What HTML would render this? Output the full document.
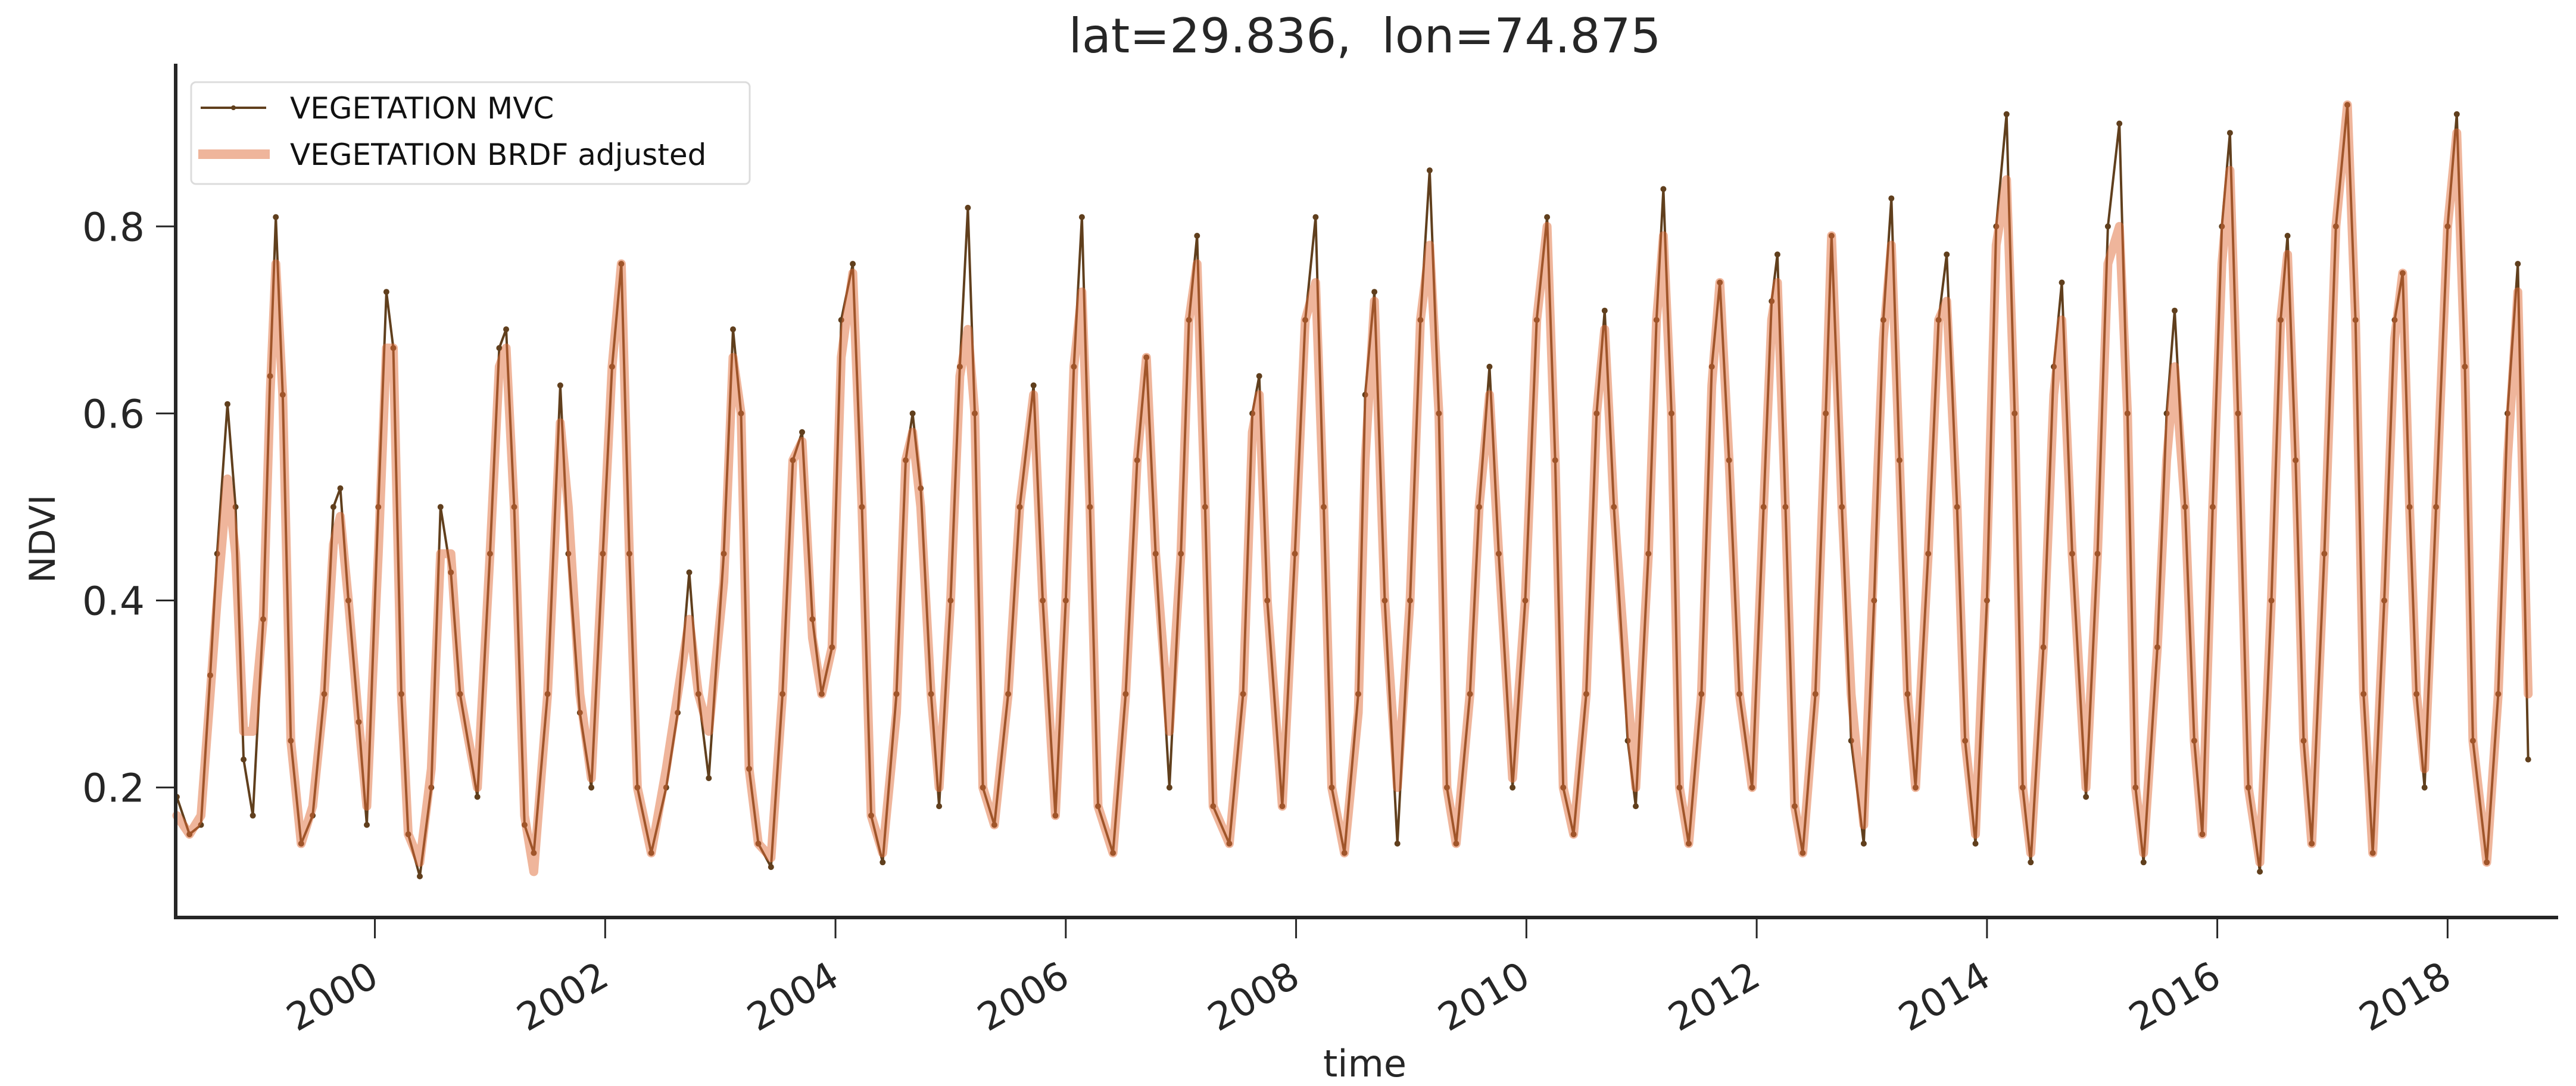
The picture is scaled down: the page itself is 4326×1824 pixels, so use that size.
<!DOCTYPE html>
<html><head><meta charset="utf-8"><style>
html,body{margin:0;padding:0;background:#fff;}
svg{display:block;}
text{font-family:"DejaVu Sans","Liberation Sans",sans-serif;fill:#262626;}
</style></head><body>
<svg id="chart" width="4326" height="1824" viewBox="0 0 4326 1824" xmlns="http://www.w3.org/2000/svg">
<rect width="4326" height="1824" fill="#fff"/>
<text x="2292" y="88" font-size="80" text-anchor="middle" style="white-space:pre">lat=29.836,  lon=74.875</text>
<g id="plot"></g>
<g id="axes"></g>
<text x="2292" y="1808" font-size="62" text-anchor="middle">time</text>
<text transform="translate(92,905) rotate(-90)" font-size="60" text-anchor="middle">NDVI</text>
<g>
<rect x="321" y="138" width="938" height="171" rx="8" fill="#fff" fill-opacity="0.85" stroke="#dcdcdc" stroke-width="3"/>
<line x1="337" y1="181" x2="447" y2="181" stroke="#603f1d" stroke-width="4"/>
<circle cx="392" cy="181" r="4" fill="#603f1d"/>
<text x="487" y="199" font-size="50" style="fill:#111">VEGETATION MVC</text>
<line x1="333" y1="259" x2="453" y2="259" stroke="rgb(224,108,55)" stroke-opacity="0.5" stroke-width="16"/>
<text x="487" y="277" font-size="50" style="fill:#111">VEGETATION BRDF adjusted</text>
</g>
</svg>
<script>
const dates=[1998.28,1998.39,1998.49,1998.57,1998.63,1998.72,1998.79,1998.86,1998.94,
1999.03,1999.09,1999.14,1999.20,1999.27,1999.36,1999.46,1999.56,1999.64,1999.70,1999.77,1999.86,1999.93,
2000.03,2000.10,2000.16,2000.23,2000.29,2000.39,2000.49,2000.57,2000.66,2000.74,2000.89,
2001.00,2001.08,2001.14,2001.21,2001.30,2001.38,2001.50,2001.61,2001.68,2001.78,2001.88,2001.98,
2002.06,2002.14,2002.21,2002.28,2002.40,2002.53,2002.63,2002.73,2002.81,2002.90,
2003.03,2003.11,2003.18,2003.25,2003.33,2003.44,2003.54,2003.63,2003.71,2003.80,2003.88,2003.97,
2004.05,2004.15,2004.23,2004.31,2004.41,2004.53,2004.61,2004.67,2004.74,2004.83,2004.90,
2005.00,2005.08,2005.15,2005.21,2005.28,2005.38,2005.50,2005.60,2005.72,2005.80,2005.91,
2006.00,2006.07,2006.14,2006.21,2006.28,2006.41,2006.52,2006.62,2006.70,2006.78,2006.90,
2007.00,2007.07,2007.14,2007.21,2007.28,2007.42,2007.54,2007.62,2007.68,2007.75,2007.88,2007.99,
2008.08,2008.17,2008.24,2008.31,2008.42,2008.54,2008.60,2008.68,2008.77,2008.88,2008.99,
2009.08,2009.16,2009.24,2009.31,2009.39,2009.51,2009.59,2009.68,2009.76,2009.88,2009.99,
2010.09,2010.18,2010.25,2010.32,2010.41,2010.52,2010.61,2010.68,2010.76,2010.88,2010.95,
2011.06,2011.13,2011.19,2011.26,2011.33,2011.41,2011.52,2011.61,2011.68,2011.76,2011.85,2011.96,
2012.06,2012.13,2012.18,2012.25,2012.33,2012.40,2012.51,2012.60,2012.65,2012.74,2012.82,2012.93,
2013.02,2013.10,2013.17,2013.24,2013.31,2013.38,2013.49,2013.58,2013.65,2013.74,2013.81,2013.90,
2014.00,2014.08,2014.17,2014.24,2014.31,2014.38,2014.49,2014.58,2014.65,2014.74,2014.86,2014.96,
2015.05,2015.15,2015.22,2015.29,2015.36,2015.48,2015.56,2015.63,2015.72,2015.80,2015.87,2015.96,
2016.04,2016.11,2016.18,2016.27,2016.37,2016.47,2016.55,2016.61,2016.68,2016.75,2016.82,2016.93,
2017.03,2017.13,2017.20,2017.27,2017.35,2017.45,2017.54,2017.61,2017.67,2017.73,2017.80,2017.90,
2018.00,2018.08,2018.15,2018.22,2018.34,2018.44,2018.52,2018.61,2018.70];
const mvc=[.19,.15,.16,.32,.45,.61,.50,.23,.17,
.38,.64,.81,.62,.25,.14,.17,.30,.50,.52,.40,.27,.16,
.50,.73,.67,.30,.15,.105,.20,.50,.43,.30,.19,
.45,.67,.69,.50,.16,.13,.30,.63,.45,.28,.20,.45,
.65,.76,.45,.20,.13,.20,.28,.43,.30,.21,
.45,.69,.60,.22,.14,.115,.30,.55,.58,.38,.30,.35,
.70,.76,.50,.17,.12,.30,.55,.60,.52,.30,.18,
.40,.65,.82,.60,.20,.16,.30,.50,.63,.40,.17,
.40,.65,.81,.50,.18,.13,.30,.55,.66,.45,.20,
.45,.70,.79,.50,.18,.14,.30,.60,.64,.40,.18,.45,
.70,.81,.50,.20,.13,.30,.62,.73,.40,.14,.40,
.70,.86,.60,.20,.14,.30,.50,.65,.45,.20,.40,
.70,.81,.55,.20,.15,.30,.60,.71,.50,.25,.18,
.45,.70,.84,.60,.20,.14,.30,.65,.74,.55,.30,.20,
.50,.72,.77,.50,.18,.13,.30,.60,.79,.50,.25,.14,
.40,.70,.83,.55,.30,.20,.45,.70,.77,.50,.25,.14,
.40,.80,.92,.60,.20,.12,.35,.65,.74,.45,.19,.45,
.80,.91,.60,.20,.12,.35,.60,.71,.50,.25,.15,.50,
.80,.90,.60,.20,.11,.40,.70,.79,.55,.25,.14,.45,
.80,.93,.70,.30,.13,.40,.70,.75,.50,.30,.20,.50,
.80,.92,.65,.25,.12,.30,.60,.76,.23];
const brdf=[.17,.15,.17,.30,.40,.53,.45,.26,.26,
.38,.62,.76,.62,.25,.14,.18,.30,.46,.49,.40,.27,.18,
.45,.67,.67,.30,.15,.12,.22,.45,.45,.30,.20,
.45,.65,.67,.50,.17,.11,.30,.59,.50,.30,.21,.45,
.65,.76,.45,.20,.13,.22,.30,.38,.30,.26,
.42,.66,.60,.22,.14,.125,.30,.55,.57,.36,.30,.35,
.66,.75,.50,.17,.13,.28,.55,.58,.50,.30,.20,
.40,.64,.69,.60,.20,.16,.30,.50,.62,.40,.17,
.40,.65,.73,.50,.18,.13,.30,.55,.66,.45,.26,
.45,.70,.76,.50,.18,.14,.30,.58,.62,.40,.18,.45,
.70,.74,.50,.20,.13,.28,.55,.72,.40,.20,.40,
.70,.78,.60,.20,.14,.30,.50,.62,.45,.21,.40,
.70,.80,.55,.20,.15,.30,.60,.69,.50,.30,.20,
.45,.70,.79,.60,.20,.14,.30,.63,.74,.55,.30,.20,
.50,.70,.74,.50,.18,.13,.30,.60,.79,.50,.30,.16,
.45,.68,.78,.55,.30,.20,.45,.70,.72,.50,.25,.15,
.45,.78,.85,.60,.20,.13,.35,.62,.70,.45,.20,.45,
.76,.80,.60,.20,.13,.35,.55,.65,.50,.25,.15,.50,
.76,.86,.60,.20,.12,.40,.70,.77,.55,.25,.14,.45,
.80,.93,.70,.30,.13,.40,.68,.75,.50,.30,.22,.50,
.80,.90,.65,.25,.12,.30,.55,.73,.30];
const yTicks=[0.2,0.4,0.6,0.8];
const yTickLabels=["0.2","0.4","0.6","0.8"];
const xTicks=[2000,2002,2004,2006,2008,2010,2012,2014,2016,2018];
const xTickLabels=["2000","2002","2004","2006","2008","2010","2012","2014","2016","2018"];

const NS="http://www.w3.org/2000/svg";
const L=295,R=4296,T=107,B=1541;
const X0=1998.27,X1=2018.96,Y0=0.061,Y1=0.974;
function sx(t){return L+(t-X0)/(X1-X0)*(R-L);}
function sy(v){return B-(v-Y0)/(Y1-Y0)*(B-T);}
function mk(tag,attrs,parent){const e=document.createElementNS(NS,tag);for(const k in attrs)e.setAttribute(k,attrs[k]);parent.appendChild(e);return e;}
const plot=document.getElementById('plot'),axes=document.getElementById('axes');

const pm=dates.map((d,i)=>sx(d).toFixed(1)+','+sy(mvc[i]).toFixed(1)).join(' ');
const lineM=mk('polyline',{points:pm,fill:'none',stroke:'#603f1d','stroke-width':4,'stroke-linejoin':'round'},plot);


dates.forEach((d,i)=>{
  const c=mk('circle',{cx:sx(d).toFixed(1),cy:sy(mvc[i]).toFixed(1),r:5,fill:'#603f1d'},plot);
  
  
});
const pb=dates.map((d,i)=>sx(d).toFixed(1)+','+sy(brdf[i]).toFixed(1)).join(' ');
const lineB=mk('polyline',{points:pb,fill:'none',stroke:'rgb(224,108,55)','stroke-opacity':0.5,'stroke-width':15,'stroke-linejoin':'round','stroke-linecap':'round'},plot);



const ya=mk('line',{x1:L,y1:T,x2:L,y2:B+3,stroke:'#262626','stroke-width':6},axes);


const xa=mk('line',{x1:L-3,y1:B,x2:R,y2:B,stroke:'#262626','stroke-width':6},axes);


yTicks.forEach((v,i)=>{
  const t=mk('line',{x1:L-33,y1:sy(v),x2:L,y2:sy(v),stroke:'#262626','stroke-width':3},axes);
  
  
  const tx=mk('text',{x:L-52,y:sy(v)+24,'font-size':66,'text-anchor':'end'},axes);
  tx.textContent=yTickLabels[i];
  
  
});
xTicks.forEach((v,i)=>{
  const x=sx(v);
  const t=mk('line',{x1:x,y1:B,x2:x,y2:B+35,stroke:'#262626','stroke-width':3},axes);
  
  
  const tx=mk('text',{'font-size':64,'text-anchor':'end',transform:'translate('+(x+10)+',1652) rotate(-30)'},axes);
  tx.textContent=xTickLabels[i];
  
  
});
</script>
</body></html>
